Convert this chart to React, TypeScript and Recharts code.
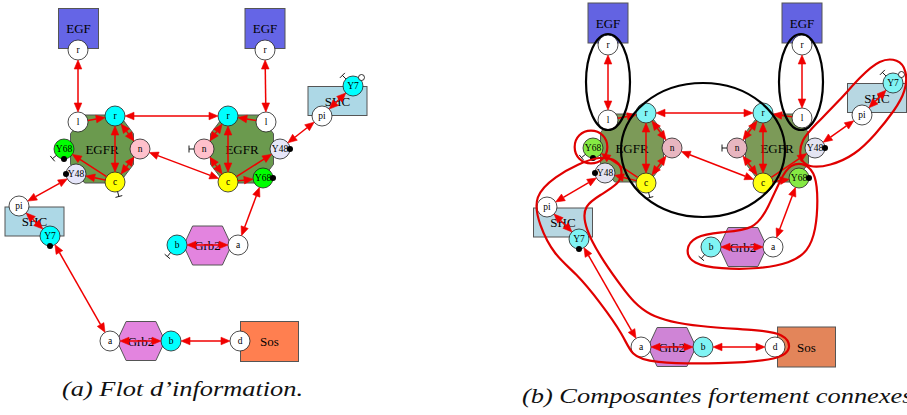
import React from 'react';
import { ScatterChart, Scatter, XAxis, YAxis } from 'recharts';

const W = 907;
const H = 415;
const FONT = '"Liberation Serif", "Times New Roman", serif';

type Pt = { x: number; y: number };
type Mol = { id: string; type: string; x: number; y: number };
type SiteRow = { id: string; x: number; y: number };

// molecules of panel (a)
const moleculesA: Mol[] = [
  { id: 'egf1', type: 'EGF', x: 78.5, y: 28.5 },
  { id: 'egf2', type: 'EGF', x: 265, y: 28.5 },
  { id: 'egfr1', type: 'EGFR', x: 102, y: 149 },
  { id: 'egfr2', type: 'EGFR', x: 242, y: 149 },
  { id: 'shc1', type: 'SHC', x: 34.5, y: 221.5 },
  { id: 'shc2', type: 'SHC', x: 337.5, y: 101 },
  { id: 'grb1', type: 'Grb2', x: 207.5, y: 245.5 },
  { id: 'grb2', type: 'Grb2', x: 141, y: 341 },
  { id: 'sos', type: 'Sos', x: 269.5, y: 341.5 },
];

// molecules of panel (b)
const moleculesB: Mol[] = [
  { id: 'egf1', type: 'EGF', x: 608, y: 23 },
  { id: 'egf2', type: 'EGF', x: 802, y: 23 },
  { id: 'egfr1', type: 'EGFR', x: 632, y: 148 },
  { id: 'egfr2', type: 'EGFR', x: 777, y: 148 },
  { id: 'shc1', type: 'SHC', x: 563, y: 222.5 },
  { id: 'shc2', type: 'SHC', x: 877, y: 98 },
  { id: 'grb1', type: 'Grb2', x: 743, y: 247 },
  { id: 'grb2', type: 'Grb2', x: 672, y: 347 },
  { id: 'sos', type: 'Sos', x: 806.5, y: 347 },
];

const sitesA: SiteRow[] = [
  { id: 'egf1.r', x: 78, y: 50 },
  { id: 'egfr1.l', x: 78, y: 122 },
  { id: 'egfr1.r', x: 115, y: 116 },
  { id: 'egfr1.n', x: 140, y: 149 },
  { id: 'egfr1.Y68', x: 64, y: 149 },
  { id: 'egfr1.Y48', x: 76, y: 174 },
  { id: 'egfr1.c', x: 115, y: 182 },
  { id: 'egf2.r', x: 265, y: 50 },
  { id: 'egfr2.l', x: 266, y: 122 },
  { id: 'egfr2.r', x: 228, y: 116 },
  { id: 'egfr2.n', x: 204, y: 149 },
  { id: 'egfr2.Y48', x: 280, y: 149 },
  { id: 'egfr2.c', x: 228, y: 182 },
  { id: 'egfr2.Y68', x: 263, y: 178 },
  { id: 'shc2.pi', x: 322, y: 116 },
  { id: 'shc2.Y7', x: 353, y: 86 },
  { id: 'shc1.pi', x: 19, y: 206 },
  { id: 'shc1.Y7', x: 50, y: 236 },
  { id: 'grb1.b', x: 177, y: 245 },
  { id: 'grb1.a', x: 238, y: 245 },
  { id: 'grb2.a', x: 110, y: 341 },
  { id: 'grb2.b', x: 171, y: 341 },
  { id: 'sos.d', x: 240, y: 341 },
];

const sitesB: SiteRow[] = [
  { id: 'egf1.r', x: 608, y: 45 },
  { id: 'egfr1.l', x: 608, y: 120 },
  { id: 'egfr1.r', x: 646, y: 113 },
  { id: 'egfr1.n', x: 672, y: 148 },
  { id: 'egfr1.Y68', x: 593, y: 148 },
  { id: 'egfr1.Y48', x: 605, y: 173 },
  { id: 'egfr1.c', x: 646, y: 183 },
  { id: 'egf2.r', x: 802, y: 45 },
  { id: 'egfr2.l', x: 802, y: 118 },
  { id: 'egfr2.r', x: 763, y: 113 },
  { id: 'egfr2.n', x: 737, y: 148 },
  { id: 'egfr2.Y48', x: 815, y: 148 },
  { id: 'egfr2.c', x: 763, y: 183 },
  { id: 'egfr2.Y68', x: 799, y: 178 },
  { id: 'shc2.pi', x: 862, y: 115 },
  { id: 'shc2.Y7', x: 893, y: 83 },
  { id: 'shc1.pi', x: 547, y: 207 },
  { id: 'shc1.Y7', x: 579, y: 239 },
  { id: 'grb1.b', x: 711, y: 247 },
  { id: 'grb1.a', x: 773, y: 247 },
  { id: 'grb2.a', x: 641, y: 347 },
  { id: 'grb2.b', x: 703, y: 347 },
  { id: 'sos.d', x: 775, y: 347 },
];

// information flow: [from, to, heads]
const links: [string, string, 'both' | 'one'][] = [
  ['egf1.r', 'egfr1.l', 'both'],
  ['egfr1.l', 'egfr1.r', 'one'],
  ['egfr1.r', 'egfr1.c', 'both'],
  ['egfr1.r', 'egfr1.n', 'both'],
  ['egfr1.n', 'egfr1.c', 'both'],
  ['egfr1.c', 'egfr1.Y68', 'one'],
  ['egfr1.c', 'egfr1.Y48', 'one'],
  ['egfr1.r', 'egfr2.r', 'both'],
  ['egfr1.n', 'egfr2.c', 'both'],
  ['egf2.r', 'egfr2.l', 'both'],
  ['egfr2.l', 'egfr2.r', 'one'],
  ['egfr2.r', 'egfr2.c', 'both'],
  ['egfr2.r', 'egfr2.n', 'both'],
  ['egfr2.n', 'egfr2.c', 'both'],
  ['egfr2.c', 'egfr2.Y68', 'one'],
  ['egfr2.c', 'egfr2.Y48', 'one'],
  ['egfr2.Y48', 'shc2.pi', 'both'],
  ['shc2.pi', 'shc2.Y7', 'both'],
  ['egfr1.Y48', 'shc1.pi', 'both'],
  ['shc1.pi', 'shc1.Y7', 'both'],
  ['shc1.Y7', 'grb2.a', 'both'],
  ['egfr2.Y68', 'grb1.a', 'both'],
  ['grb1.b', 'grb1.a', 'both'],
  ['grb2.a', 'grb2.b', 'both'],
  ['grb2.b', 'sos.d', 'both'],
];

// site state marks: dot = bound, bar = free, ring = unknown
const marks: { site: string; kind: string; angle: number }[] = [
  { site: 'egfr1.Y68', kind: 'dot', angle: 90 },
  { site: 'egfr1.Y68', kind: 'bar', angle: 140 },
  { site: 'egfr1.Y48', kind: 'dot', angle: 180 },
  { site: 'egfr1.c', kind: 'bar', angle: 75 },
  { site: 'egfr2.n', kind: 'bar', angle: 180 },
  { site: 'egfr2.Y48', kind: 'dot', angle: 0 },
  { site: 'egfr2.Y68', kind: 'dot', angle: 0 },
  { site: 'shc2.Y7', kind: 'bar', angle: 225 },
  { site: 'shc2.Y7', kind: 'ring', angle: 315 },
  { site: 'shc1.Y7', kind: 'dot', angle: 90 },
  { site: 'grb1.b', kind: 'bar', angle: 130 },
];

// strongly connected components in (b)
const ovalsB = [
  { x: 608, y: 82, rx: 22, ry: 48 },
  { x: 801, y: 82, rx: 22, ry: 48 },
  { x: 703, y: 150, rx: 82, ry: 67 },
];

const loopY68: Pt[] = [
  { x: 591, y: 129 }, { x: 604, y: 134 }, { x: 609, y: 147 }, { x: 604, y: 160 },
  { x: 591, y: 165 }, { x: 578, y: 160 }, { x: 573, y: 147 }, { x: 578, y: 134 },
];

const loopShcGrbSos: Pt[] = [
  { x: 600, y: 156 }, { x: 618, y: 160 }, { x: 623, y: 172 }, { x: 619, y: 184 },
  { x: 600, y: 195 }, { x: 584, y: 206 }, { x: 584, y: 222 }, { x: 591, y: 240 },
  { x: 604, y: 262 }, { x: 621, y: 286 }, { x: 646, y: 318 }, { x: 700, y: 327 },
  { x: 760, y: 330 }, { x: 784, y: 334 }, { x: 792, y: 347 }, { x: 782, y: 360 },
  { x: 720, y: 364 }, { x: 650, y: 363 }, { x: 631, y: 355 }, { x: 624, y: 336 },
  { x: 600, y: 302 }, { x: 576, y: 273 }, { x: 554, y: 255 }, { x: 539, y: 225 },
  { x: 533, y: 196 }, { x: 556, y: 176 }, { x: 578, y: 164 },
];

const loopShc2: Pt[] = [
  { x: 880, y: 59 }, { x: 898, y: 59 }, { x: 907, y: 70 }, { x: 906, y: 91 },
  { x: 895, y: 110 }, { x: 875, y: 135 }, { x: 855, y: 155 }, { x: 830, y: 166 },
  { x: 808, y: 168 }, { x: 799, y: 158 }, { x: 801, y: 140 }, { x: 815, y: 125 },
  { x: 840, y: 100 }, { x: 860, y: 77 },
];

const loopGrb1: Pt[] = [
  { x: 781, y: 178 }, { x: 790, y: 164 }, { x: 806, y: 163 }, { x: 816, y: 175 },
  { x: 818, y: 200 }, { x: 816, y: 230 }, { x: 808, y: 252 }, { x: 790, y: 263 },
  { x: 760, y: 269 }, { x: 720, y: 269 }, { x: 692, y: 264 }, { x: 685, y: 250 },
  { x: 694, y: 236 }, { x: 720, y: 232 }, { x: 755, y: 230 }, { x: 768, y: 208 },
];

const captions = [
  { x: 62, y: 396, text: '(a) Flot d\u2019information.' },
  { x: 522, y: 403, text: '(b) Composantes fortement connexes' },
];

const molStyle: Record<string, { w: number; h: number; shape: string }> = {
  EGF: { w: 40, h: 40, shape: 'box' },
  EGFR: { w: 63, h: 68, shape: 'oct' },
  SHC: { w: 59, h: 29, shape: 'box' },
  Grb2: { w: 48, h: 39, shape: 'hex' },
  Sos: { w: 58, h: 40, shape: 'box' },
};

const paletteA: Record<string, string> = {
  EGF: '#6565e6', EGFR: '#6b9a4e', SHC: '#add8e6', Grb2: '#e384df', Sos: '#ff7f50',
  r: '#00ffff', n: '#ffc0cb', c: '#ffff00', Y68: '#00ff00', Y48: '#e6e6fa', Y7: '#00ffff', b: '#00ffff',
};
const paletteB: Record<string, string> = {
  EGF: '#6363e2', EGFR: '#7c9a58', SHC: '#b7d7e2', Grb2: '#cf84d6', Sos: '#e3855a',
  r: '#80f4f4', n: '#e8b6c0', c: '#ffff10', Y68: '#86ea44', Y48: '#e4e4f2', Y7: '#80f4f4', b: '#80f4f4',
};

const RED = '#f00000';
const SITE_R = 10;

const poly = (pts: number[][], cx: number, cy: number) =>
  pts.map(([a, b]) => `${cx + a},${cy + b}`).join(' ');

const molShape = (pal: Record<string, string>) => (props: any) => {
  const { cx, cy, payload } = props;
  const st = molStyle[payload.type];
  const hw = st.w / 2;
  const hh = st.h / 2;
  const common = { fill: pal[payload.type], stroke: '#555', strokeWidth: 1 };
  let body;
  if (st.shape === 'box') {
    body = <rect x={cx - hw} y={cy - hh} width={st.w} height={st.h} {...common} />;
  } else if (st.shape === 'hex') {
    const pts = [[-hw, 0], [-hw * 0.62, -hh], [hw * 0.62, -hh], [hw, 0], [hw * 0.62, hh], [-hw * 0.62, hh]];
    body = <polygon points={poly(pts, cx, cy)} {...common} />;
  } else {
    const pts = [
      [-hw * 0.55, -hh], [hw * 0.55, -hh], [hw, -hh * 0.45], [hw, hh * 0.45],
      [hw * 0.55, hh], [-hw * 0.55, hh], [-hw, hh * 0.45], [-hw, -hh * 0.45],
    ];
    body = <polygon points={poly(pts, cx, cy)} {...common} />;
  }
  return (
    <g>
      {body}
      <text x={cx} y={cy} dy="0.35em" textAnchor="middle" fontSize={13} fontFamily={FONT} fill="#000">
        {payload.type}
      </text>
    </g>
  );
};

const siteShape = (pal: Record<string, string>) => (props: any) => {
  const { cx, cy, payload } = props;
  const fill = payload.molType === 'EGF' ? '#ffffff' : pal[payload.name] ?? '#ffffff';
  return (
    <g>
      <circle cx={cx} cy={cy} r={SITE_R} fill={fill} stroke="#222" strokeWidth={0.8} />
      <text x={cx} y={cy} dy="0.35em" textAnchor="middle" fontSize={9.5} fontFamily={FONT} fill="#000">
        {payload.name}
      </text>
    </g>
  );
};

const markShape = (props: any) => {
  const { cx, cy, payload } = props;
  const t = (payload.angle * Math.PI) / 180;
  const ux = Math.cos(t);
  const uy = Math.sin(t);
  if (payload.kind === 'dot') {
    return <circle cx={cx + ux * SITE_R} cy={cy + uy * SITE_R} r={3} fill="#000" />;
  }
  if (payload.kind === 'ring') {
    return <circle cx={cx + ux * (SITE_R + 2)} cy={cy + uy * (SITE_R + 2)} r={3} fill="#fff" stroke="#000" strokeWidth={0.8} />;
  }
  const ex = cx + ux * (SITE_R + 5);
  const ey = cy + uy * (SITE_R + 5);
  return (
    <g stroke="#000" strokeWidth={0.9}>
      <line x1={cx + ux * SITE_R} y1={cy + uy * SITE_R} x2={ex} y2={ey} />
      <line x1={ex - uy * 3.5} y1={ey + ux * 3.5} x2={ex + uy * 3.5} y2={ey - ux * 3.5} />
    </g>
  );
};

function Arrow({ p, q, both }: { p: Pt; q: Pt; both: boolean }) {
  const dx = q.x - p.x;
  const dy = q.y - p.y;
  const len = Math.hypot(dx, dy) || 1;
  const ux = dx / len;
  const uy = dy / len;
  const AL = 9;
  const AW = 3.8;
  const sx = p.x + ux * SITE_R;
  const sy = p.y + uy * SITE_R;
  const ex = q.x - ux * SITE_R;
  const ey = q.y - uy * SITE_R;
  const head = (tx: number, ty: number, vx: number, vy: number) => {
    const bx = tx - vx * AL;
    const by = ty - vy * AL;
    return `${tx},${ty} ${bx - vy * AW},${by + vx * AW} ${bx + vy * AW},${by - vx * AW}`;
  };
  return (
    <g>
      <line
        x1={both ? sx + ux * AL : sx}
        y1={both ? sy + uy * AL : sy}
        x2={ex - ux * AL}
        y2={ey - uy * AL}
        stroke={RED}
        strokeWidth={1.5}
      />
      <polygon points={head(ex, ey, ux, uy)} fill={RED} stroke={RED} strokeWidth={0.6} />
      {both && <polygon points={head(sx, sy, -ux, -uy)} fill={RED} stroke={RED} strokeWidth={0.6} />}
    </g>
  );
}

const edgeLine = (props: any) => {
  const pts: Pt[] = props.points;
  const out = [];
  for (let i = 0; i + 1 < pts.length; i += 2) {
    out.push(<Arrow key={i} p={pts[i]} q={pts[i + 1]} both={links[i / 2][2] === 'both'} />);
  }
  return <g>{out}</g>;
};

const ovalShape = (props: any) => {
  const { cx, cy, payload } = props;
  return <ellipse cx={cx} cy={cy} rx={payload.rx} ry={payload.ry} fill="none" stroke="#000" strokeWidth={2.2} />;
};

const captionShape = (props: any) => {
  const { cx, cy, payload } = props;
  return (
    <text
      transform={`translate(${cx},${cy}) scale(1.2,1)`}
      fontSize={22}
      fontStyle="italic"
      fontFamily={FONT}
      fill="#111"
    >
      {payload.text}
    </text>
  );
};

const none = () => <g />;

function buildPanel(mols: Mol[], sites: SiteRow[]) {
  const typeOf = new Map(mols.map((m) => [m.id, m.type]));
  const at = new Map(sites.map((s) => [s.id, s]));
  const siteRows = sites.map((s) => {
    const [mol, name] = s.id.split('.');
    return { ...s, name, molType: typeOf.get(mol) };
  });
  const ends = links.flatMap(([a, b]) => [
    { x: at.get(a)!.x, y: at.get(a)!.y },
    { x: at.get(b)!.x, y: at.get(b)!.y },
  ]);
  const markRows = marks.map((m) => ({ ...m, x: at.get(m.site)!.x, y: at.get(m.site)!.y }));
  return { siteRows, ends, markRows };
}

const panelA = buildPanel(moleculesA, sitesA);
const panelB = buildPanel(moleculesB, sitesB);

export default function App() {
  const loops = [loopY68, loopShcGrbSos, loopShc2, loopGrb1];
  return (
    <div style={{ width: W, height: H, background: '#fff' }}>
      <style>{'body{margin:0}'}</style>
      <ScatterChart width={W} height={H} margin={{ top: 0, right: 0, bottom: 0, left: 0 }}>
        <XAxis type="number" dataKey="x" domain={[0, W]} hide allowDataOverflow />
        <YAxis type="number" dataKey="y" domain={[0, H]} reversed hide allowDataOverflow />

        <Scatter data={moleculesA} shape={molShape(paletteA)} isAnimationActive={false} />
        <Scatter data={panelA.siteRows} shape={siteShape(paletteA)} isAnimationActive={false} />
        <Scatter data={panelA.markRows} shape={markShape} isAnimationActive={false} />
        <Scatter data={panelA.ends} shape={none} line={edgeLine} lineType="joint" isAnimationActive={false} />

        <Scatter data={moleculesB} shape={molShape(paletteB)} isAnimationActive={false} />
        <Scatter data={panelB.siteRows} shape={siteShape(paletteB)} isAnimationActive={false} />
        <Scatter data={panelB.markRows} shape={markShape} isAnimationActive={false} />
        <Scatter data={panelB.ends} shape={none} line={edgeLine} lineType="joint" isAnimationActive={false} />

        <Scatter data={ovalsB} shape={ovalShape} isAnimationActive={false} />
        {loops.map((pts, i) => (
          <Scatter
            key={i}
            data={pts}
            shape={none}
            line={{ stroke: '#e00000', strokeWidth: 2.2 }}
            lineType="joint"
            lineJointType="basisClosed"
            isAnimationActive={false}
          />
        ))}

        <Scatter data={captions} shape={captionShape} isAnimationActive={false} />
      </ScatterChart>
    </div>
  );
}
